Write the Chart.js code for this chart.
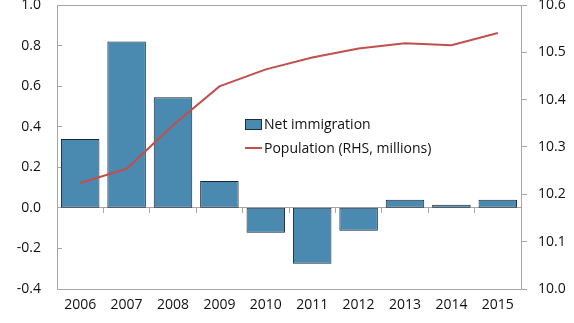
<!DOCTYPE html>
<html>
<head>
<meta charset="utf-8">
<title>Net immigration and population</title>
<style>
  body { margin: 0; background: #fff; }
  #wrap { position: relative; width: 574px; height: 323px; }
  #legend { position: absolute; left: 245px; top: 112px; font-family: "Open Sans", sans-serif; font-size: 14px; color: #111; }
  #legend div { height: 24px; line-height: 24px; white-space: nowrap; }
  .box { display: inline-block; width: 15px; height: 9px; background: #4a8ab0; border: 1px solid #1f2d3a; vertical-align: middle; margin-right: 2px; position: relative; top: -1px; }
  .ln { display: inline-block; width: 17px; height: 2px; background: #c0504d; vertical-align: middle; margin-right: 2px; position: relative; top: -1px; }
</style>
</head>
<body>
<div id="wrap">
  <canvas id="myChart" width="574" height="323"></canvas>
  <div id="legend">
    <div><span class="box"></span>Net immigration</div>
    <div><span class="ln"></span>Population (RHS, millions)</div>
  </div>
</div>

<script src="https://cdn.jsdelivr.net/npm/chart.js"></script>
<script>
    // data
    const years = ['2006', '2007', '2008', '2009', '2010', '2011', '2012', '2013', '2014', '2015'];
    const netImmigration = [0.34, 0.82, 0.545, 0.133, -0.123, -0.276, -0.113, 0.04, 0.015, 0.04];
    const population = [10.224, 10.254, 10.346, 10.428, 10.464, 10.489, 10.508, 10.519, 10.515, 10.541];

    // min, max, step
    const leftTicks = [-0.4, 1.0, 0.2];
    const rightTicks = [10.0, 10.6, 0.1];

    const axisGrey = '#a6a6a6';
    const font = { family: 'Open Sans', size: 14 };

    function oneDecimal(v) {
        if (Math.abs(v) < 1e-9) v = 0;
        return v.toFixed(1);
    }

    // the tick padding would otherwise push the plot down
    function fixWidth(w) {
        return s => {
            s.width = w;
            s.paddingTop = 0;
            s.paddingBottom = 0;
        };
    }

    const config = {
        type: 'bar',
        data: {
            labels: years,
            datasets: [{
                type: 'line',
                label: 'Population (RHS, millions)',
                data: population,
                yAxisID: 'y2',
                borderColor: '#c0504d',
                borderWidth: 2,
                pointRadius: 0,
                tension: 0,
                order: 0
            }, {
                label: 'Net immigration',
                data: netImmigration,
                yAxisID: 'y',
                backgroundColor: '#4a8ab0',
                borderColor: '#1a2633',
                borderWidth: 1,
                borderSkipped: false,
                categoryPercentage: 1,
                barPercentage: 0.83,
                order: 1
            }]
        },
        options: {
            responsive: false,
            animation: false,
            devicePixelRatio: 1,
            layout: { padding: 0 },
            plugins: {
                legend: { display: false },
                tooltip: { enabled: false }
            },
            scales: {
                x: {
                    position: 'bottom',
                    grid: { display: false, drawTicks: false },
                    border: { display: true, color: axisGrey },
                    ticks: { color: '#111', font: font, padding: 8, maxRotation: 0 },
                    afterFit: s => { s.height = 34; }
                },
                x2: {
                    position: { y: 0 },
                    grid: { drawOnChartArea: false, tickLength: 5, color: axisGrey, offset: true },
                    border: { display: true, color: axisGrey },
                    ticks: { display: false }
                },
                xt: {
                    position: 'top',
                    grid: { display: false, drawTicks: false },
                    border: { display: true, color: axisGrey },
                    ticks: { display: false },
                    afterFit: s => { s.height = 5; }
                },
                y: {
                    position: 'left',
                    min: leftTicks[0],
                    max: leftTicks[1],
                    grid: { drawOnChartArea: false, tickLength: -5, color: axisGrey },
                    border: { display: true, color: axisGrey },
                    ticks: {
                        stepSize: leftTicks[2],
                        color: '#111',
                        font: font,
                        padding: 21,
                        callback: oneDecimal
                    },
                    afterFit: fixWidth(57)
                },
                y2: {
                    position: 'right',
                    min: rightTicks[0],
                    max: rightTicks[1],
                    grid: { drawOnChartArea: false, tickLength: 6, color: axisGrey },
                    border: { display: true, color: axisGrey },
                    ticks: {
                        stepSize: rightTicks[2],
                        color: '#111',
                        font: font,
                        padding: 11,
                        callback: oneDecimal
                    },
                    afterFit: fixWidth(53)
                }
            }
        }
    };

    const myChart = new Chart(document.getElementById('myChart'), config);
</script>
</body>
</html>
